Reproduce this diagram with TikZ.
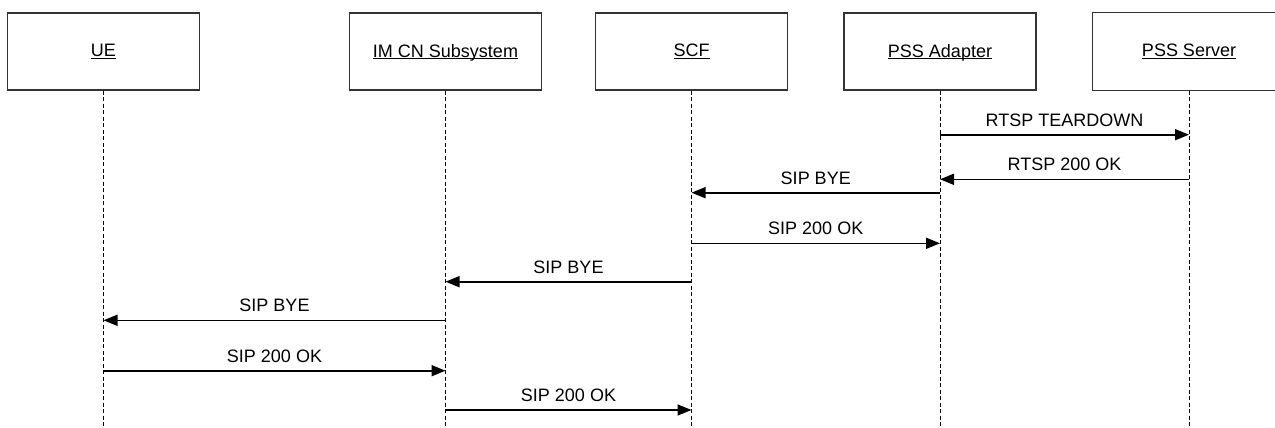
\documentclass[tikz,border=0pt]{standalone}
\usepackage{fontspec}
\setmainfont{Liberation Sans}
\usetikzlibrary{arrows.meta}
\newcommand\boxlabel[1]{\underline{\raisebox{0pt}[\height][0pt]{#1}}}
\begin{document}
\begin{tikzpicture}[x=1pt,y=-1pt,
  entity/.style={draw=black!80, line width=1.1pt, minimum width=192pt, minimum height=77pt, inner sep=0pt, font=\fontsize{18}{21}\selectfont},
  openentity/.style={entity, draw=none},
  lifeline/.style={line width=0.8pt, dash pattern=on 4pt off 2.5pt},
  msg/.style={line width=1.6pt, -{Triangle[length=14pt,width=11pt]}},
  lbl/.style={font=\fontsize{18}{21}\selectfont, inner sep=0pt}]
\clip (0,0) rectangle (1275,428);
\path[use as bounding box] (0,0) rectangle (1275,428);
\node[entity] (ue) at (103.5,51.5) {\boxlabel{UE}};
\node[entity] (ims) at (445.5,51.5) {\boxlabel{IM CN Subsystem}};
\node[entity] (scf) at (691.5,51.5) {\boxlabel{SCF}};
\node[entity] (ad) at (940,51.5) {\boxlabel{PSS Adapter}};
\node[openentity] (sv) at (1189,51.5) {\boxlabel{PSS Server}};
\draw[draw=black!80, line width=1.1pt] (sv.north east) -- (sv.north west) -- (sv.south west) -- (sv.south east);
\foreach \n in {ue,ims,scf,ad,sv}{
  \coordinate (\n-end) at (\n.south |- 0,430);
  \draw[lifeline] (\n.south) -- (\n-end);
}
\foreach \i/\a/\b/\y/\t in {1/ad/sv/134.7/RTSP TEARDOWN,2/sv/ad/179.3/RTSP 200 OK,3/ad/scf/192.7/SIP BYE,4/scf/ad/243.3/SIP 200 OK,5/scf/ims/281.7/SIP BYE,6/ims/ue/320.3/SIP BYE,7/ue/ims/370.7/SIP 200 OK,8/ims/scf/410/SIP 200 OK}{
  \coordinate (s\i) at (\a.south |- 0,\y);
  \coordinate (e\i) at (\b.south |- 0,\y);
  \draw[msg] (s\i) -- node[lbl, above=7.5pt] (l\i) {\t} (e\i);
}
\end{tikzpicture}
\end{document}
